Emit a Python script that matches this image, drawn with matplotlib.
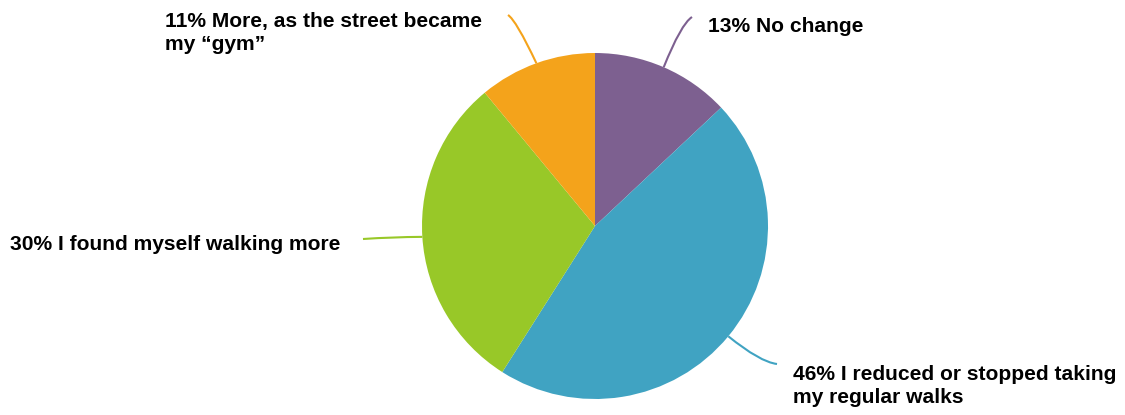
import numpy as np
import matplotlib.pyplot as plt
from matplotlib.path import Path
from matplotlib.patches import PathPatch

# survey answers, clockwise from 12 o'clock
labels = ["13% No change",
          "46% I reduced or stopped taking\nmy regular walks",
          "30% I found myself walking more",
          "11% More, as the street became\nmy \u201cgym\u201d"]
shares = [13, 46, 30, 11]
colors = ["#7D6090", "#40A3C2", "#98C828", "#F4A31B"]

W, H = 1125, 415
fig = plt.figure(figsize=(W / 100, H / 100), dpi=100)
ax = fig.add_axes([0, 0, 1, 1])

cx, cy, r = 595, H - 226, 173
ax.pie(shares, colors=colors, startangle=90, counterclock=False,
       center=(cx, cy), radius=r, frame=True,
       wedgeprops=dict(linewidth=0))
ax.set_xlim(0, W)
ax.set_ylim(0, H)
ax.set_aspect("equal")
ax.axis("off")

# leader lines: bend point and end point (pixel coords, y from top)
bends = [(681, 24), (760, 362), (392, 237), (516, 20)]
line_ends = [(692, 17), (777, 364), (363, 239), (508, 15)]
text_pos = [(708, 27), (793, 386), (10, 244), (165, 33)]

cum = np.cumsum([0] + shares)
for i, (lab, col) in enumerate(zip(labels, colors)):
    mid = 90 - (cum[i] + shares[i] / 2) / 100 * 360
    ex = cx + r * np.cos(np.radians(mid))
    ey = cy + r * np.sin(np.radians(mid))
    bx, by = bends[i]
    lx, ly = line_ends[i]
    path = Path([(ex, ey), (bx, H - by), (lx, H - ly)],
                [Path.MOVETO, Path.CURVE3, Path.CURVE3])
    ax.add_patch(PathPatch(path, fill=False, edgecolor=col, lw=1.5))
    tx, ty = text_pos[i]
    ax.text(tx, H - ty, lab, ha="left", va="center", fontsize=15.1,
            fontweight="bold", family="Liberation Sans", linespacing=1.32)

fig.savefig("out.png", dpi=100)
